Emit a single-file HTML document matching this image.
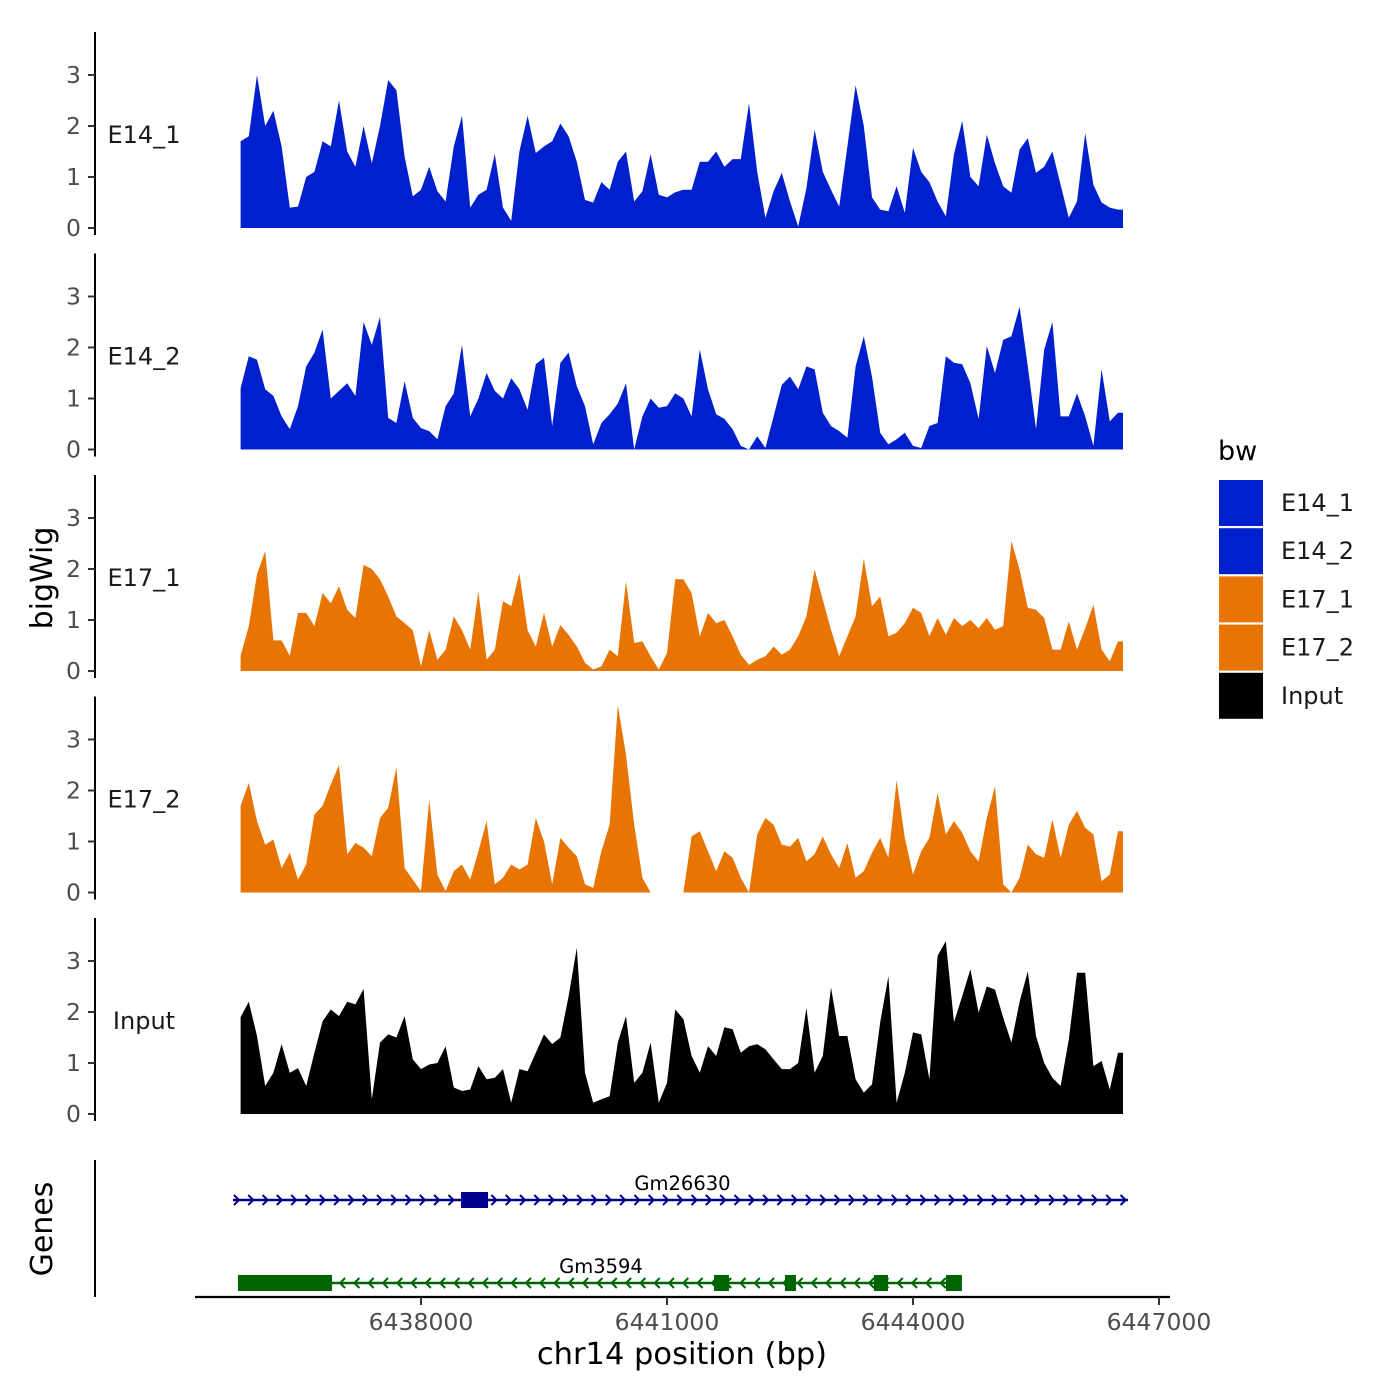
<!DOCTYPE html>
<html><head><meta charset="utf-8"><style>
body{margin:0;background:#fff;}
svg{display:block;font-family:"DejaVu Sans","Liberation Sans",sans-serif;}
.tick{font-size:23.5px;fill:#4d4d4d;}
</style></head><body>
<svg id="chart" width="1400" height="1400" viewBox="0 0 1400 1400" xmlns="http://www.w3.org/2000/svg">
<g id="panels"></g>
<g id="genes"></g>
<g id="xaxis"></g>
<text x="52" y="578" transform="rotate(-90 52 578)" text-anchor="middle" font-size="30">bigWig</text>
<text x="52" y="1229" transform="rotate(-90 52 1229)" text-anchor="middle" font-size="30">Genes</text>
<text x="682" y="1364" text-anchor="middle" font-size="30.5">chr14 position (bp)</text>
<g id="legend"></g>
</svg>
<script>
const trackNames = ["E14_1","E14_2","E17_1","E17_2","Input"];
const trackColors = ["#0020CE","#0020CE","#E87503","#E87503","#000000"];
const binStart = 6435800;
const binStep = 100;
const e14_1 = [1.7,1.8,3.0,2.0,2.3,1.6,0.4,0.42,1.0,1.1,1.7,1.6,2.5,1.5,1.2,2.0,1.27,2.0,2.9,2.7,1.4,0.62,0.75,1.2,0.72,0.52,1.6,2.2,0.4,0.65,0.75,1.45,0.4,0.14,1.5,2.2,1.47,1.6,1.7,2.05,1.8,1.3,0.55,0.5,0.9,0.75,1.3,1.5,0.52,0.72,1.45,0.65,0.6,0.7,0.75,
0.75,1.3,1.3,1.5,1.2,1.35,1.35,2.45,1.1,0.2,0.72,1.08,0.52,0.03,0.78,1.93,1.1,0.75,0.42,1.6,2.8,2.0,0.6,0.36,0.33,0.82,0.3,1.57,1.1,0.9,0.52,0.23,1.45,2.1,1.0,0.82,1.83,1.27,0.82,0.69,1.54,1.76,1.08,1.2,1.5,0.85,0.2,0.52,1.86,0.85,0.5,0.4,0.36];
const e14_2 = [1.2,1.83,1.76,1.18,1.05,0.65,0.4,0.85,1.63,1.9,2.35,1.0,1.15,1.3,1.05,2.5,2.05,2.6,0.62,0.52,1.34,0.62,0.42,0.36,0.2,0.85,1.1,2.05,0.65,1.0,1.5,1.15,1.0,1.4,1.18,0.78,1.67,1.8,0.46,1.7,1.9,1.24,0.85,0.1,0.52,0.69,0.9,1.3,0,0.65,1.0,0.82,0.85,1.1,1.0,
0.65,1.96,1.18,0.69,0.6,0.4,0.07,0,0.26,0.03,0.65,1.27,1.43,1.18,1.63,1.57,0.72,0.46,0.36,0.23,1.63,2.22,1.43,0.33,0.1,0.2,0.33,0.07,0.03,0.46,0.52,1.83,1.7,1.67,1.3,0.6,2.03,1.5,2.15,2.22,2.8,1.63,0.4,1.96,2.5,0.65,0.65,1.1,0.65,0.07,1.57,0.55,0.72];
const e17_1 = [0.3,0.88,1.9,2.35,0.6,0.6,0.3,1.14,1.14,0.88,1.53,1.33,1.66,1.2,1.04,2.08,2.0,1.8,1.46,1.07,0.94,0.8,0.09,0.8,0.22,0.42,1.07,0.8,0.42,1.56,0.22,0.42,1.37,1.27,1.92,0.8,0.48,1.14,0.48,0.9,0.71,0.48,0.16,0.03,0.09,0.42,0.29,1.76,0.55,0.58,0.29,0.03,0.35,1.8,1.8,
1.53,0.68,1.14,0.94,1.0,0.68,0.32,0.12,0.22,0.29,0.48,0.32,0.42,0.68,1.07,1.99,1.4,0.81,0.29,0.68,1.07,2.2,1.27,1.46,0.68,0.75,0.94,1.24,1.14,0.68,1.04,0.71,1.04,0.88,1.0,0.84,1.04,0.81,0.88,2.55,1.99,1.24,1.2,1.04,0.42,0.42,0.97,0.42,0.84,1.3,0.42,0.19,0.58];
const e17_2 = [1.7,2.15,1.4,0.94,1.04,0.48,0.78,0.25,0.55,1.53,1.7,2.12,2.5,0.75,0.97,0.88,0.71,1.46,1.66,2.45,0.48,0.25,0.03,1.82,0.35,0.03,0.42,0.55,0.25,0.81,1.4,0.16,0.29,0.55,0.45,0.55,1.46,1.0,0.16,1.07,0.88,0.71,0.16,0.09,0.81,1.33,3.67,2.7,1.33,0.29,0,0,0,0,0,
1.1,1.2,0.81,0.42,0.81,0.68,0.29,0,1.14,1.46,1.33,0.94,0.9,1.07,0.61,0.75,1.1,0.75,0.48,0.97,0.29,0.42,0.78,1.07,0.68,2.2,1.07,0.35,0.81,1.07,1.95,1.14,1.4,1.17,0.81,0.61,1.46,2.08,0.16,0,0.29,0.94,0.75,0.68,1.43,0.68,1.33,1.6,1.27,1.14,0.22,0.35,1.2];
const input = [1.9,2.2,1.53,0.55,0.81,1.37,0.81,0.9,0.55,1.2,1.82,2.05,1.92,2.2,2.15,2.45,0.29,1.4,1.56,1.5,1.92,1.07,0.88,0.97,1.0,1.33,0.52,0.45,0.48,0.94,0.68,0.71,0.88,0.22,0.88,0.84,1.2,1.56,1.37,1.5,2.31,3.26,0.81,0.22,0.29,0.35,1.4,1.92,0.61,0.81,1.4,0.22,0.61,2.05,1.86,
1.14,0.81,1.33,1.14,1.7,1.66,1.2,1.33,1.37,1.27,1.07,0.88,0.88,1.0,2.08,0.81,1.14,2.48,1.53,1.53,0.68,0.42,0.58,1.8,2.7,0.22,0.81,1.6,1.56,0.68,3.1,3.39,1.8,2.31,2.84,1.99,2.5,2.44,1.89,1.4,2.2,2.8,1.53,1.0,0.71,0.55,1.46,2.77,2.77,0.94,1.04,0.48,1.2];
const trackValues = [e14_1,e14_2,e17_1,e17_2,input];
const yTicks = [0,1,2,3];
const xTicks = [6438000,6441000,6444000,6447000];
const xTickLabels = ["6438000","6441000","6444000","6447000"];
const geneNames = ["Gm26630","Gm3594"];
const geneStarts = [6435707,6435768];
const geneEnds = [6446622,6444573];
const geneStrands = ["+","-"];
const geneColors = ["#00008B","#006400"];
const exonStarts = [[6438488],[6435768,6441573,6442439,6443524,6444402]];
const exonEnds = [[6438817],[6436915,6441756,6442573,6443695,6444597]];

const NS="http://www.w3.org/2000/svg";
function mk(tag,attrs,parent){const e=document.createElementNS(NS,tag);for(const k in attrs)e.setAttribute(k,attrs[k]);parent.appendChild(e);return e;}
function xs(bp){return 421+(bp-6438000)*0.082;}
const baselines=[228,449.5,671,892.5,1114];
function ys(v,p){return baselines[p]-v*51;}

const panels=document.getElementById('panels');
trackValues.forEach((vals,p)=>{
  const g=mk('g',{},panels);
  
  
  let d='M'+xs(binStart).toFixed(1)+','+baselines[p];
  vals.forEach((v,i)=>{d+=' L'+xs(binStart+i*binStep).toFixed(1)+','+ys(v,p).toFixed(1);});
  d+=' L'+(xs(binStart+(vals.length-1)*binStep)+5).toFixed(1)+','+ys(vals[vals.length-1],p).toFixed(1);
  d+=' L'+(xs(binStart+(vals.length-1)*binStep)+5).toFixed(1)+','+baselines[p]+' Z';
  const a=mk('path',{d:d,fill:trackColors[p]},g);
  
  
  const ax=mk('line',{x1:95,x2:95,y1:baselines[p]-196,y2:baselines[p]+7,stroke:'#000','stroke-width':2},g);
  
  
  yTicks.forEach(t=>{
    const tl=mk('line',{x1:88,x2:95,y1:ys(t,p),y2:ys(t,p),stroke:'#333','stroke-width':2},g);
    
    
    const tx=mk('text',{x:81,y:ys(t,p)+8,'text-anchor':'end','class':'tick'},g);
    tx.textContent=t;
    
    
  });
  const lb=mk('text',{x:144,y:baselines[p]-85,'text-anchor':'middle','font-size':24,fill:'#1a1a1a'},g);
  lb.textContent=trackNames[p];
  
  
});

const genes=document.getElementById('genes');
const gax=mk('line',{x1:95,x2:95,y1:1160,y2:1297,stroke:'#000','stroke-width':2},genes);


const geneY=[1200,1283];
geneNames.forEach((n,k)=>{
  const g=mk('g',{},genes);
  
  
  const x1=xs(geneStarts[k]),x2=xs(geneEnds[k]),y=geneY[k],c=geneColors[k];
  mk('line',{x1:x1,x2:x2,y1:y,y2:y,stroke:c,'stroke-width':2.5},g);
  const step=14.3;
  for(let x=x1+4;x<=x2;x+=step){
    const s=geneStrands[k]==='+'?1:-1;
    const ch=mk('polyline',{points:(x-3*s)+','+(y-5)+' '+(x+2*s)+','+y+' '+(x-3*s)+','+(y+5),fill:'none',stroke:c,'stroke-width':2},g);
    
    
  }
  exonStarts[k].forEach((s,j)=>{
    const r=mk('rect',{x:xs(s),y:y-8,width:xs(exonEnds[k][j])-xs(s),height:16,fill:c},g);
    
    
  });
  const cx=xs((geneStarts[k]+geneEnds[k])/2)+2;
  const t=mk('text',{x:cx,y:y-10,'text-anchor':'middle','font-size':19.5,fill:'#000'},g);
  t.textContent=n;
  
  
});

const xa=document.getElementById('xaxis');
mk('line',{x1:195,x2:1170,y1:1297,y2:1297,stroke:'#000','stroke-width':2.2},xa);
xTicks.forEach((t,i)=>{
  const l=mk('line',{x1:xs(t),x2:xs(t),y1:1297,y2:1305,stroke:'#333','stroke-width':2},xa);
  
  
  const tx=mk('text',{x:xs(t),y:1330,'text-anchor':'middle','class':'tick'},xa);
  tx.textContent=xTickLabels[i];
  
  
});

const lg=document.getElementById('legend');
const lt=mk('text',{x:1218,y:460,'font-size':27},lg);
lt.textContent='bw';


trackNames.forEach((n,i)=>{
  const y=480+i*48.2;
  const r=mk('rect',{x:1219,y:y,width:44,height:46,fill:trackColors[i]},lg);
  
  
  const t=mk('text',{x:1281,y:y+31,'font-size':24,fill:'#1a1a1a'},lg);
  t.textContent=n;
  
  
});
</script>
</body></html>
